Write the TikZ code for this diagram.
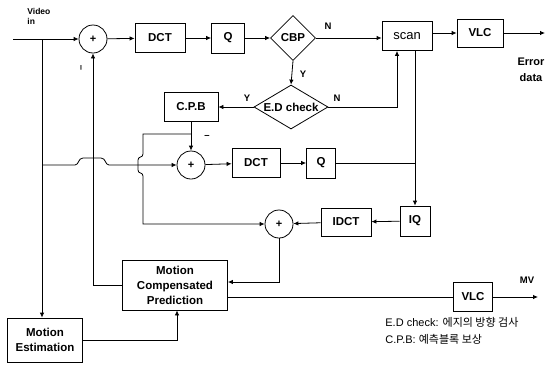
\documentclass[tikz,border=0pt]{standalone}
\usepackage{fontspec}
\setmainfont{Liberation Sans}
\newfontfamily\kr{Noto Sans CJK KR}
\usetikzlibrary{shapes.geometric,arrows.meta}
\begin{document}
\begin{tikzpicture}[x=1pt,y=-1pt, line width=0.8pt, >={Latex[length=5pt,width=4.5pt]},
 blk/.style={draw, rectangle, inner sep=0pt, align=center, font=\bfseries\fontsize{11.5}{15}\selectfont},
 sumc/.style={draw, circle, minimum size=28pt, inner sep=0pt, font=\bfseries\fontsize{11}{12}\selectfont},
 dia/.style={draw, diamond, inner sep=-10pt, font=\bfseries\fontsize{11.5}{13}\selectfont},
 lbl/.style={font=\bfseries\fontsize{9.5}{10}\selectfont, inner sep=0pt},
 leg/.style={font=\fontsize{11}{12}\selectfont, inner sep=0pt, anchor=west}]
\useasboundingbox (0,0) rectangle (548,378);

% top row
\node[sumc] (c1) at (93,39) {+};
\node[blk, minimum width=50pt, minimum height=29pt] (dct1) at (160,38) {DCT};
\node[blk, minimum width=33pt, minimum height=30pt] (q1) at (228,38) {Q};
\node[dia, minimum width=45pt, minimum height=45pt] (cbp) at (293,38) {CBP};
\node[blk, minimum width=50pt, minimum height=29pt, font=\fontsize{13}{15}\selectfont] (scan) at (407,36) {scan};
\node[blk, minimum width=46pt, minimum height=28pt] (vlc1) at (480,33) {VLC};

% second row
\node[dia, minimum width=74pt, minimum height=44pt] (ed) at (291,107) {E.D check};
\node[blk, minimum width=54pt, minimum height=29pt] (cpb) at (191,107) {C.P.B};

% third row
\node[sumc] (c2) at (191,165) {+};
\node[blk, minimum width=48pt, minimum height=29pt] (dct2) at (256,163) {DCT};
\node[blk, minimum width=29pt, minimum height=30pt] (q2) at (321,163) {Q};

% fourth row
\node[sumc] (c3) at (279,224) {+};
\node[blk, minimum width=50pt, minimum height=28pt] (idct) at (346,222) {IDCT};
\node[blk, minimum width=30pt, minimum height=30pt] (iq) at (415,221) {IQ};

% bottom
\node[blk, minimum width=105pt, minimum height=50pt] (mcp) at (175,285) {Motion\\Compensated\\Prediction};
\node[blk, minimum width=39pt, minimum height=29pt] (vlc2) at (473,297) {VLC};
\node[blk, minimum width=75pt, minimum height=44pt] (me) at (45,340) {Motion\\Estimation};

% coordinates
\coordinate (vin) at (13,39);
\coordinate (j1) at (42,39);
\coordinate (eout) at (545,33);
\coordinate (mvout) at (538,297);
\coordinate (b1) at (191,134);

% top row connectors
\draw[->] (vin) -- (c1.west);
\draw[->] (c1) -- (dct1);
\draw[->] (dct1) -- (q1);
\draw[->] (q1.east) -- (cbp.west);
\draw[->] (cbp.east) -- (cbp.east -| scan.west);
\draw[->] (scan.east |- vlc1.west) -- (vlc1.west);
\draw[->] (vlc1.east) -- (eout);

% decision connectors
\draw[->] (cbp.south) -- (ed.north);
\draw[->] (ed.west) -- (cpb.east);
\draw[->] (ed.east) -| ([xshift=-10pt]scan.south);
\draw[->] ([xshift=8pt]scan.south) -- (iq.north);
\draw[->] (cpb.south) -- (c2.north);

% third row
\draw[->] (c2) -- (dct2);
\draw[->] (dct2) -- (q2);
\draw (q2.east) -- (q2.east -| iq.north);

% fourth row
\draw[->] (iq) -- (idct);
\draw[->] (idct) -- (c3);
\draw[->] (c3.south) |- ([yshift=3pt]mcp.east);
\draw ([yshift=-12pt]mcp.east) -- (vlc2.west);
\draw[->] (vlc2.east) -- (mvout);

% feedback to first adder
\draw[->] (mcp.west) -| (c1.south);

% motion estimation
\draw[->] (j1) -- (j1 |- me.north);
\draw[->] (me.east) -| ([xshift=2pt]mcp.south);

% horizontal line with hop
\draw[->] (42,165) -- (75,165) .. controls (79,165) and (78,158) .. (83,158) -- (101,158) .. controls (106,158) and (105,165) .. (109,165) -- (c2.west);

% branch from C.P.B to third adder with hop
\draw[->] (b1) -- (143,134) -- (143,154) .. controls (143,158) and (138,156) .. (138,160) -- (138,170) .. controls (138,174) and (143,172) .. (143,176) -- (143,224) -- (c3.west);

% labels
\node[lbl] (ln1) at (328,26) {N};
\node[lbl] (ly1) at (303,74) {Y};
\node[lbl] (ly2) at (247,98) {Y};
\node[lbl] (ln2) at (337,98) {N};
\node[lbl] (lmv) at (527,280) {MV};
\node[lbl] (lm2) at (207,137) {--};
\node[lbl, rotate=90] (lm1) at (82,68) {--};
\node[lbl, font=\bfseries\fontsize{11}{12}\selectfont] (lerr) at (531,62) {Error};
\node[lbl, font=\bfseries\fontsize{11}{12}\selectfont] (ldata) at (531,78) {data};
\node[lbl, anchor=west, font=\bfseries\fontsize{8.5}{9}\selectfont] (lvid) at (27,11) {Video};
\node[lbl, anchor=west, font=\bfseries\fontsize{8.5}{9}\selectfont] (lin) at (27,21) {in};

% legend
\node[leg] (leg1) at (385,322) {E.D check: {\kr 에지의 방향 검사}};
\node[leg] (leg2) at (385,339) {C.P.B: {\kr 예측블록 보상}};
\end{tikzpicture}
\end{document}
